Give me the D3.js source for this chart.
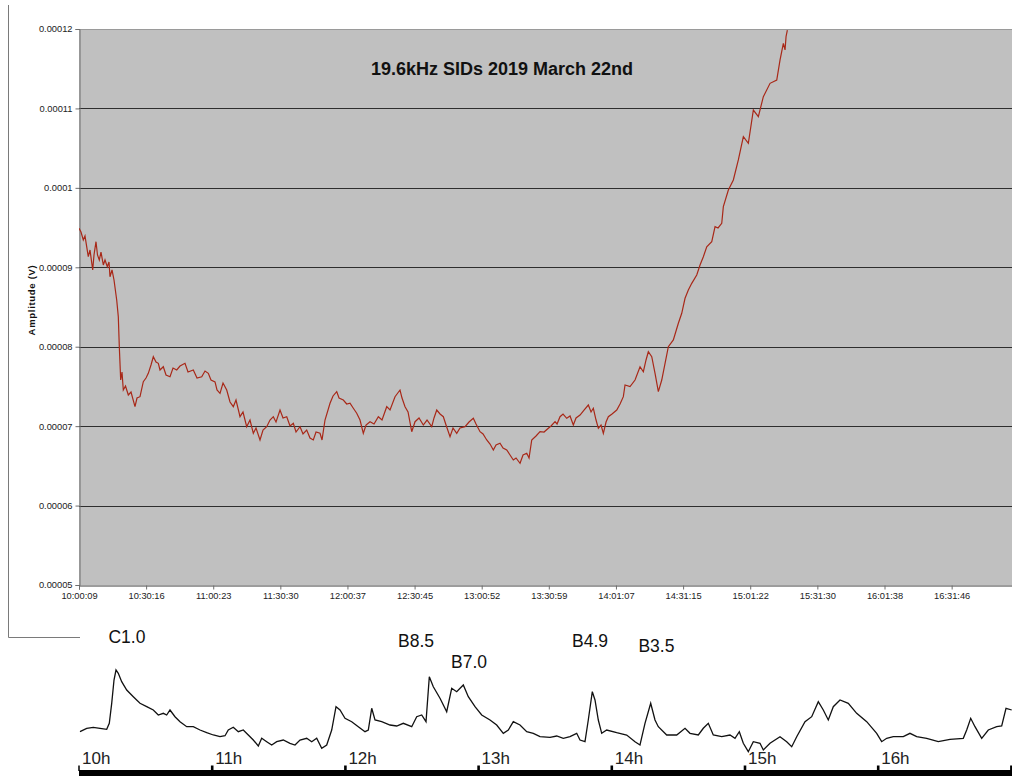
<!DOCTYPE html>
<html>
<head>
<meta charset="utf-8">
<script src="https://cdn.jsdelivr.net/npm/d3@7"></script>
<style>
  html, body { margin: 0; padding: 0; background: #fff; }
  svg { display: block; font-family: Arial, "Liberation Sans", sans-serif; }
  .tick-label { font-size: 9.3px; fill: #222; }
</style>
</head>
<body>
<svg id="chart" width="1012" height="776"></svg>
<script>
// ---- VLF (19.6 kHz) amplitude, minutes after 10:00:09, amplitude in microvolts
const sidMinutes = [
  0, 0.9, 1.93, 2.69, 4.17, 4.94, 6.15, 6.73, 7.63, 8.3, 9.11, 9.87, 10.91, 11.67, 12.7, 13.46,
  13.91, 14.81, 15.71, 16.92, 17.64, 18.09, 18.71, 19.3, 19.88, 20.87, 22.13, 23.34, 25.13, 26.03,
  27.38, 28.86, 30.07, 31.1, 32.31, 33.35, 34.56, 35.59, 36.35, 37.83, 39.05, 40.84, 42.19, 43.85,
  45.33, 47.57, 48.92, 51.3, 52.96, 55.07, 56.55, 58.03, 59.24, 61.04, 61.93, 63.28, 64.63, 66.29,
  67.77, 69.25, 70.46, 72.26, 73.6, 75.26, 76.74, 78.23, 79.44, 81.23, 82.58, 84.24, 85.72, 87.2,
  88.41, 90.21, 91.56, 93.22, 94.7, 96.18, 97.39, 99.18, 100.53, 102.19, 103.67, 105.15, 106.37,
  108.16, 109.06, 110.4, 112.65, 114, 115.66, 116.69, 118.62, 120.14, 121.62, 123.11, 124.63,
  126.11, 127.59, 128.81, 130.6, 132.4, 134.33, 135.99, 138.1, 139.58, 141.82, 144.06, 144.96,
  146.31, 147.66, 149.32, 150.8, 152.59, 154.52, 156.18, 158.29, 159.32, 160.54, 162.02, 163.5,
  164.71, 166.5, 167.85, 169.51, 170.99, 173.24, 175.03, 176.96, 178.17, 179.97, 181.32, 182.98,
  184.46, 185.94, 187.15, 188.94, 190.29, 191.95, 193.43, 194.91, 196.13, 197.92, 199.27, 200.93,
  201.96, 203.17, 205.1, 206.9, 208.69, 210.62, 211.83, 213.63, 214.53, 215.87, 217.22, 218.88,
  220.36, 221.84, 223.05, 224.85, 226.64, 228.57, 229.79, 230.82, 232.03, 233.06, 234.27, 235.31,
  236.52, 237.55, 239.21, 241.32, 242.8, 244.28, 245.04, 247.29, 249.53, 251.78, 253.26, 254.47,
  255.5, 257.03, 258.51, 259.99, 261.52, 263, 264.48, 266.72, 268.97, 270.49, 271.97, 273.45,
  274.98, 277.22, 278.7, 280.19, 281.71, 283.96, 285.44, 286.78, 288.44, 289.16, 291.41, 293.65,
  295.89, 298.14, 300.38, 302.63, 304.87, 307.11, 310.12, 313.13, 314.61, 316.09, 316.85, 317.3,
  317.89
];
const sidMicroVolts = [
  94.9, 94.44, 93.44, 93.94, 91.33, 92.18, 89.66, 91.55, 93.22, 91.55, 90.92, 91.92, 90.29, 90.92, 90.07, 90.67,
  88.81, 89.66, 88.4, 85.88, 83.78, 80.0, 75.81, 76.82, 74.55, 75.05, 73.92, 74.3, 72.45, 73.54,
  73.71, 75.6, 76.06, 76.65, 77.7, 78.74, 78.08, 77.91, 77.07, 77.48, 76.44, 76.22, 77.32, 77.07,
  77.57, 77.91, 76.82, 77.07, 76.06, 76.22, 76.94, 76.65, 75.81, 75.56, 74.55, 74.13, 75.43, 74.55,
  73.04, 72.45, 73.29, 71.19, 71.78, 69.93, 70.77, 69.1, 69.77, 68.26, 69.51, 69.93, 70.77, 71.19,
  70.52, 72.03, 71.03, 71.19, 70.02, 70.36, 69.26, 69.93, 69.01, 69.51, 68.51, 68.26, 69.26,
  69.1, 68.26, 70.77, 72.88, 73.8, 74.34, 73.54, 73.29, 72.79, 72.88, 72.25, 71.62,
  70.77, 69.1, 70.14, 70.56, 70.27, 71.19, 70.77, 72.45, 72.03, 73.71, 74.55, 73.54,
  72.45, 71.78, 69.3, 70.56, 71.03, 70.14, 70.77, 69.93, 71.03, 72.03, 71.53, 71.19,
  70.14, 68.67, 69.77, 69.1, 69.77, 69.93, 70.52, 70.99, 70.27, 69.3, 69.01, 68.26,
  67.75, 67.0, 67.63, 67.84, 67.25, 67.0, 66.37, 65.74, 65.99, 65.32, 66.37, 66.58,
  65.99, 68.26, 68.76, 69.3, 69.26, 69.73, 70.02, 70.56, 70.27, 71.19, 71.53, 70.99,
  71.28, 70.14, 71.03, 71.4, 72.03, 72.66, 71.78, 72.25, 70.77, 69.73, 70.14, 69.1,
  70.52, 71.19, 71.53, 72.03, 72.79, 73.71, 75.18, 74.97, 75.81, 77.48, 76.85, 78.33,
  79.37, 78.74, 76.65, 74.34, 75.81, 77.91, 80.0, 80.85, 82.95, 84.21, 86.1, 87.14,
  87.98, 89.03, 90.29, 91.33, 92.59, 93.22, 95.11, 94.95, 95.54, 97.63, 99.73, 100.99,
  103.51, 106.44, 105.61, 109.8, 108.96, 111.48, 113.16, 113.58, 116.1, 118.2, 117.36, 119.03,
  119.87
];
const ampTicks = [0.00005, 0.00006, 0.00007, 0.00008, 0.00009, 0.0001, 0.00011, 0.00012];
// category labels Excel printed under the upper chart
const timeTickLabels = [
  "10:00:09", "10:30:16", "11:00:23", "11:30:30", "12:00:37", "12:30:45", "13:00:52",
  "13:30:59", "14:01:07", "14:31:15", "15:01:22", "15:31:30", "16:01:38", "16:31:46"
];

// ---- GOES X-ray flux trace, minutes after 10:00, relative level (no scale shown)
const xrayMinutes = [
  0.45, 3.47, 6.44, 9.46, 12.48, 13.65, 14.73, 15.77, 16.67, 17.7, 19.23, 21.49, 24.46, 27.48, 30.5,
  33.47, 35.72, 37.98, 39.5, 40.99, 43.24, 45.5, 48.52, 51.49, 54.51, 57.52, 60.5, 63.51, 65.77,
  67.25, 69.5, 71.76, 74.01, 76.26, 78.51, 80.77, 82.3, 84.55, 86.8, 89.06, 92.03, 95.04, 97.3,
  99.55, 102.57, 104.82, 107.07, 109.33, 111.58, 113.83, 115.77, 117.57, 119.82, 122.84, 125.81,
  128.83, 130.32, 131.85, 133.34, 136.35, 140.09, 143.11, 146.08, 149.87, 152.12, 154.37, 156.31,
  157.8, 159.6, 162.61, 165.63, 167.88, 170.14, 173.11, 175.36, 178.38, 181.4, 185.14, 188.15,
  191.13, 193.38, 195.63, 198.65, 201.67, 204.64, 207.66, 212.16, 215.18, 218.15, 221.17, 224.19,
  225.68, 227.93, 229.41, 231.22, 232.43, 233.92, 235.45, 237.7, 242.21, 246.71, 250.45, 252.7,
  254.95, 257.52, 259.46, 260.95, 264.73, 269.24, 272.98, 275.23, 278.97, 281.22, 283.47, 285.72,
  289.51, 293.24, 295.5, 297.44, 299.24, 301.49, 303.74, 306.76, 308.25, 311.26, 315.77, 318.78,
  321.04, 323.29, 327.03, 330.05, 333.02, 335.27, 337.52, 339.77, 342.79, 346.53, 350.31, 354.82,
  359.32, 361.57, 363.83, 366.8, 371.3, 374.32, 377.34, 381.84, 387.07, 392.34, 398.33, 399.86,
  401.67, 403.6, 406.62, 409.59, 413.38, 415.63, 417.57, 420.14
];
const xrayLevel = [
  28.3, 31.7, 32.7, 31.7, 30.7, 36.7, 56.7, 80, 90, 86.7, 78.3, 70, 63.3, 56.7, 53.3,
  50, 45, 46.7, 45, 50, 43.3, 38.3, 33.3, 33.3, 30, 27.3, 25, 23.3, 24.3,
  30, 32.7, 28.3, 30, 25, 20, 14, 21.7, 18.3, 15, 18.3, 20, 16.7, 15,
  20, 21.7, 18.3, 21.7, 11.7, 15, 30, 53.3, 50, 41.7, 38.3, 33.3,
  28.3, 30, 51.7, 40, 38.3, 35, 34, 36.7, 33.3, 43.3, 45, 38.3,
  83.3, 73.3, 61.7, 48.3, 71.7, 68.3, 75, 63.3, 53.3, 45, 40, 35,
  26.7, 30, 38.3, 35, 28.3, 26.7, 23.3, 22.7, 24, 21.7, 23.3, 26.7,
  20, 18.3, 40, 68.3, 60, 40, 26.7, 30, 27.3, 25, 18.3, 15,
  36.7, 56.7, 40, 33.3, 25, 25, 31.7, 26.7, 25, 31.7, 36.7, 25,
  23.3, 25, 21.7, 28.3, 16.7, 8.3, 18.3, 16.7, 10, 16.7, 23.3, 18.3,
  13.3, 23.3, 38.3, 43.3, 58.3, 50, 40, 53.3, 60, 56.7, 46.7, 38.3,
  26.7, 18.3, 21.7, 23.3, 23.3, 26.7, 23.3, 21.7, 18.3, 20.7, 21.7, 30,
  41.7, 33.3, 21.7, 30, 33.3, 34, 51.7, 50
];
const hourTicks = [0, 1, 2, 3, 4, 5, 6, 7];           // hours after 10h (17h notch sits on the edge)
const hourLabels = ["10h", "11h", "12h", "13h", "14h", "15h", "16h"];
const flareNames = ["C1.0", "B8.5", "B7.0", "B4.9", "B3.5"];
const flareLabelMinutes = [21.6, 151.8, 175.7, 230.2, 260.1];
const flareLabelLevels = [117, 113, 92, 113, 108];

const svg = d3.select("#chart");
const W = 1012, H = 776;

// ---------------- upper chart (Excel style) ----------------
const plot = { left: 79, right: 1012, top: 29, bottom: 585 };
const t0 = new Date(2019, 2, 22, 10, 0, 9);
const minToDate = (m) => new Date(t0.getTime() + m * 60000);
const parseClock = (s) => {
  const [h, m, sec] = s.split(":").map(Number);
  return new Date(2019, 2, 22, h, m, sec);
};

const x = d3.scaleTime()
  .domain([t0, minToDate(418.7)])
  .range([plot.left, plot.right]);
const y = d3.scaleLinear()
  .domain([0.00005, 0.00012])
  .range([plot.bottom, plot.top]);

// outer frame of the chart object (partly hidden behind the pasted image)
svg.append("path")
  .attr("d", `M8.5,5V637.5H80`)
  .attr("fill", "none")
  .attr("stroke", "#7a7a7a");

svg.append("rect")
  .attr("x", plot.left)
  .attr("y", plot.top)
  .attr("width", plot.right - plot.left)
  .attr("height", plot.bottom - plot.top)
  .attr("fill", "#c0c0c0");

// gridlines
svg.append("g")
  .selectAll("line")
  .data(ampTicks.slice(1, -1))
  .join("line")
  .attr("x1", plot.left)
  .attr("x2", plot.right)
  .attr("y1", (d) => Math.round(y(d)) + 0.5)
  .attr("y2", (d) => Math.round(y(d)) + 0.5)
  .attr("stroke", "#2e2e2e")
  .attr("stroke-width", 1.2);

// top border of plot area
svg.append("line")
  .attr("x1", plot.left).attr("x2", plot.right)
  .attr("y1", plot.top + 0.5).attr("y2", plot.top + 0.5)
  .attr("stroke", "#9a9a9a");

// y axis
const yAxis = svg.append("g")
  .attr("transform", `translate(${plot.left + 0.5},0)`)
  .call(
    d3.axisLeft(y)
      .tickValues(ampTicks)
      .tickSize(4)
      .tickPadding(3)
      .tickFormat((d) => String(+d.toFixed(5)))
  );
yAxis.select(".domain").attr("stroke", "#6e6e6e");
yAxis.selectAll(".tick line").attr("stroke", "#6e6e6e");
yAxis.selectAll(".tick text")
  .attr("class", "tick-label")
  .attr("font-family", null)
  .attr("font-size", null);

// x axis, the labels Excel put every n-th sample
const timeTicks = timeTickLabels.map(parseClock);
const xAxis = svg.append("g")
  .attr("transform", `translate(0,${plot.bottom + 0.5})`)
  .call(
    d3.axisBottom(x)
      .tickValues(timeTicks)
      .tickSize(4)
      .tickPadding(3)
      .tickFormat((d, i) => timeTickLabels[i])
  );
xAxis.select(".domain").attr("stroke", "#3a3a3a");
xAxis.selectAll(".tick line").attr("stroke", "#6e6e6e");
xAxis.selectAll(".tick text")
  .attr("class", "tick-label")
  .attr("font-family", null)
  .attr("font-size", null);

// y axis title
svg.append("text")
  .attr("transform", `translate(35,300) rotate(-90)`)
  .attr("text-anchor", "middle")
  .attr("font-size", 9.5)
  .attr("font-weight", "bold")
  .attr("letter-spacing", 0.7)
  .attr("fill", "#111")
  .text("Amplitude (V)");

// chart title
svg.append("text")
  .attr("x", 502)
  .attr("y", 75)
  .attr("text-anchor", "middle")
  .attr("font-size", 18)
  .attr("font-weight", "bold")
  .attr("fill", "#111")
  .text("19.6kHz SIDs 2019 March 22nd");

// the amplitude trace
svg.append("defs").append("clipPath").attr("id", "plotClip")
  .append("rect")
  .attr("x", plot.left).attr("y", plot.top - 1)
  .attr("width", plot.right - plot.left).attr("height", plot.bottom - plot.top + 1);

const sidLine = d3.line()
  .x((i) => x(minToDate(sidMinutes[i])))
  .y((i) => y(sidMicroVolts[i] * 1e-6));

svg.append("path")
  .attr("clip-path", "url(#plotClip)")
  .attr("d", sidLine(d3.range(sidMinutes.length)))
  .attr("fill", "none")
  .attr("stroke", "#a82818")
  .attr("stroke-width", 1.2)
  .attr("stroke-linejoin", "miter");

// ---------------- lower panel: pasted X-ray flux plot ----------------
const xr = d3.scaleLinear().domain([0, 420]).range([79, 1011.4]);
const yr = d3.scaleLinear().domain([0, 100]).range([760, 660]);

const xrayLine = d3.line()
  .x((i) => xr(xrayMinutes[i]))
  .y((i) => yr(xrayLevel[i]));

svg.append("path")
  .attr("d", xrayLine(d3.range(xrayMinutes.length)))
  .attr("fill", "none")
  .attr("stroke", "#111")
  .attr("stroke-width", 1.3);

// flare class labels
svg.append("g")
  .selectAll("text")
  .data(flareNames)
  .join("text")
  .attr("x", (d, i) => xr(flareLabelMinutes[i]))
  .attr("y", (d, i) => yr(flareLabelLevels[i]))
  .attr("text-anchor", "middle")
  .attr("font-size", 17.5)
  .attr("fill", "#111")
  .text((d) => d);

// hour axis: thick bar with small notches
svg.append("rect")
  .attr("x", xr(0))
  .attr("y", 770)
  .attr("width", W - xr(0))
  .attr("height", 6)
  .attr("fill", "#000");

svg.append("g")
  .selectAll("line")
  .data(hourTicks)
  .join("line")
  .attr("x1", (h) => xr(h * 60))
  .attr("x2", (h) => xr(h * 60))
  .attr("y1", 765.5)
  .attr("y2", 771)
  .attr("stroke", "#000")
  .attr("stroke-width", (h) => (h === 0 ? 1.5 : 2.6));

svg.append("g")
  .selectAll("text")
  .data(hourLabels)
  .join("text")
  .attr("x", (d, i) => xr(hourTicks[i] * 60) + 3)
  .attr("y", 764)
  .attr("font-size", 17)
  .attr("fill", "#222")
  .text((d) => d);
</script>
</body>
</html>
